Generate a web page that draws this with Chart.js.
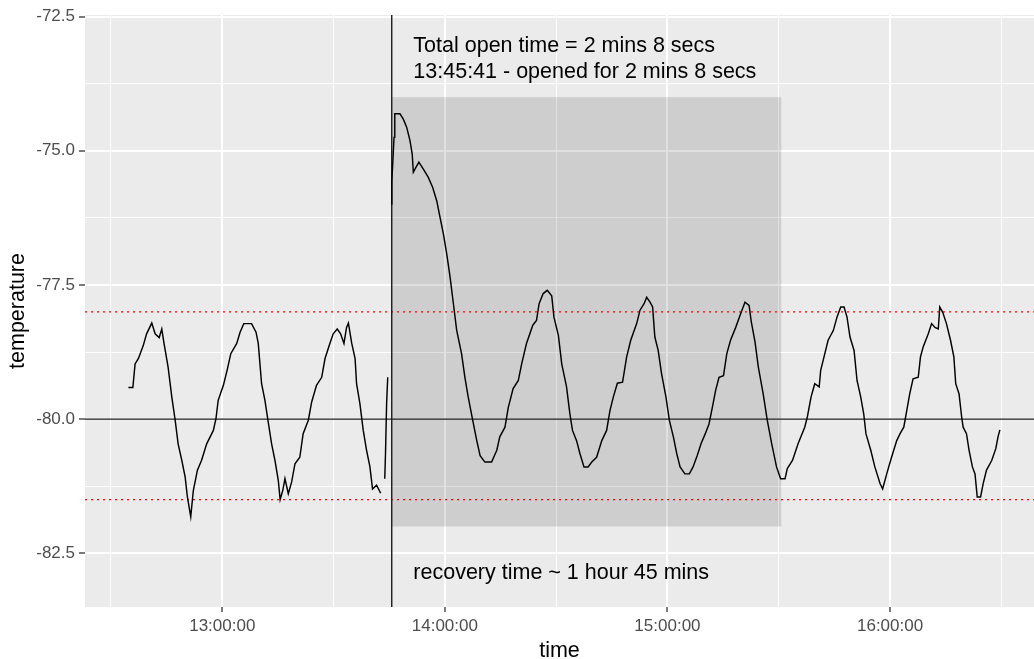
<!DOCTYPE html>
<html>
<head>
<meta charset="utf-8">
<title>temperature vs time</title>
<script src="https://cdn.jsdelivr.net/npm/chart.js@4.4.1/dist/chart.umd.min.js"></script>
<style>
  html, body { margin: 0; padding: 0; background: #fff; }
  #wrap { width: 1034px; height: 659px; }
</style>
</head>
<body>
<div id="wrap"><canvas id="chart"></canvas></div>
<script>
// -----------------------------
// Data (time = minutes since midnight, null = gap in logging)
// -----------------------------
const timeMins = [
  754.7, 755.9, 756.5, 757.4, 758.7, 759.6, 761.0, 761.9, 763.0, 763.7,
  764.3, 765.4, 766.4, 767.3, 768.1, 769.1, 770.0, 770.6, 771.5, 772.2,
  773.3, 774.4, 775.8, 777.6, 778.3, 778.9, 780.3, 781.3, 782.3, 783.9,
  784.8, 785.8, 787.9, 789.1, 789.7, 790.6, 791.5, 792.4, 793.3, 794.2,
  795.1, 795.6, 796.3, 796.9, 797.8, 798.7, 799.6, 800.9, 801.8, 803.2,
  804.1, 805.4, 806.8, 807.7, 809.0, 809.9, 811.0, 811.9, 812.8, 813.5,
  814.0, 814.9, 815.8, 816.2, 817.1, 818.0, 818.9, 819.8, 820.5, 821.6,
  822.7, 823.2, 823.8, 824.0, 824.3, 824.6, 825.1, 825.6, 825.7, 826.3,
  826.5, 827.9, 828.8, 829.7, 830.6, 831.2, 831.5, 832.2, 833.0, 834.2,
  835.5, 836.7, 837.8, 838.7, 839.6, 840.5, 841.4, 842.3, 843.2, 844.5,
  845.4, 846.3, 847.5, 848.6, 849.5, 850.8, 852.6, 854.0, 854.8, 856.2,
  857.1, 858.4, 859.8, 860.7, 862.0, 863.7, 864.7, 865.4, 866.5, 867.6,
  868.8, 869.4, 870.6, 871.5, 872.8, 873.7, 874.4, 875.5, 876.4, 877.5,
  878.6, 879.6, 880.9, 882.3, 883.6, 884.5, 885.4, 886.5, 887.9, 889.0,
  890.1, 891.7, 892.6, 893.7, 894.4, 895.3, 896.0, 896.6, 897.5, 898.4,
  899.6, 900.5, 901.6, 902.5, 903.4, 904.7, 905.9, 906.9, 908.0, 909.1,
  910.2, 911.2, 912.1, 913.0, 913.9, 915.1, 916.0, 917.0, 918.4, 919.7,
  920.9, 922.0, 922.6, 923.6, 924.5, 925.8, 926.9, 928.1, 929.4, 930.5,
  931.7, 932.3, 933.7, 935.2, 937.0, 937.7, 938.7, 939.7, 940.9, 941.3,
  942.2, 943.3, 944.7, 945.7, 946.7, 947.6, 948.4, 949.2, 950.3, 951.1,
  952.1, 952.9, 953.5, 954.8, 955.9, 957.3, 958.0, 959.1, 960.4, 961.8,
  962.7, 963.7, 964.5, 965.3, 966.2, 967.6, 968.2, 968.9, 970.3, 971.2,
  972.1, 973.0, 973.4, 974.2, 975.2, 976.3, 977.2, 977.7, 978.6, 979.3,
  979.7, 980.6, 981.3, 982.2, 982.9, 983.5, 984.4, 985.1, 986.0, 987.4,
  988.5, 989.1, 989.6
];

const temps = [
  -79.41, -79.41, -78.97, -78.87, -78.63, -78.41, -78.21, -78.41, -78.48, -78.32,
  -78.59, -79.03, -79.59, -80.02, -80.46, -80.77, -81.08, -81.45, -81.82, -81.33,
  -80.95, -80.77, -80.46, -80.21, -79.99, -79.65, -79.37, -79.09, -78.78, -78.59,
  -78.38, -78.22, -78.22, -78.38, -78.59, -79.34, -79.65, -80.06, -80.46, -80.77,
  -81.14, -81.50, -81.33, -81.11, -81.39, -81.17, -80.83, -80.71, -80.27, -80.02,
  -79.68, -79.37, -79.22, -78.87, -78.59, -78.41, -78.32, -78.41, -78.59, -78.29,
  -78.21, -78.59, -78.87, -79.34, -79.71, -80.21, -80.58, -80.89, -81.30, -81.23,
  -81.38, null, -81.11, -80.64, -79.71, -79.22, null, -75.99, -75.58, -74.75,
  -74.31, -74.31, -74.41, -74.56, -74.81, -75.06, -75.40, -75.31, -75.21, -75.34,
  -75.49, -75.68, -75.93, -76.24, -76.55, -76.92, -77.35, -77.85, -78.35, -78.78,
  -79.22, -79.59, -80.02, -80.40, -80.68, -80.80, -80.80, -80.58, -80.33, -80.15,
  -79.78, -79.43, -79.28, -78.97, -78.59, -78.25, -78.16, -77.85, -77.66, -77.60,
  -77.70, -78.10, -78.44, -78.97, -79.40, -79.90, -80.21, -80.40, -80.64, -80.89,
  -80.89, -80.80, -80.71, -80.40, -80.21, -79.84, -79.59, -79.33, -79.31, -78.84,
  -78.53, -78.22, -77.97, -77.85, -77.73, -77.82, -77.91, -78.47, -78.72, -79.15,
  -79.59, -80.02, -80.33, -80.64, -80.89, -81.02, -81.02, -80.89, -80.68, -80.45,
  -80.27, -80.09, -79.78, -79.46, -79.22, -79.19, -78.78, -78.53, -78.29, -78.04,
  -77.82, -77.88, -78.19, -78.56, -79.03, -79.53, -80.02, -80.46, -80.89, -81.11,
  -81.11, -80.92, -80.77, -80.46, -80.15, -79.96, -79.59, -79.34, -79.40, -79.09,
  -78.84, -78.53, -78.35, -78.10, -77.91, -77.91, -78.10, -78.47, -78.72, -79.28,
  -79.59, -79.90, -80.27, -80.58, -80.89, -81.20, -81.30, -81.02, -80.71, -80.40,
  -80.27, -80.15, -79.84, -79.53, -79.25, -79.22, -78.84, -78.66, -78.41, -78.22,
  -78.29, -78.32, -77.91, -78.01, -78.22, -78.53, -78.84, -79.34, -79.53, -79.96,
  -80.15, -80.27, -80.58, -80.89, -81.02, -81.45, -81.45, -81.20, -80.95, -80.77,
  -80.55, -80.33, -80.20
];

// axis ticks (major get labels, minor only gridlines)
const xMajorTicks = [780, 840, 900, 960];
const xMinorTicks = [750, 810, 870, 930, 990];
const yMajorTicks = [-82.5, -80, -77.5, -75, -72.5];
const yMinorTicks = [-81.25, -78.75, -76.25, -73.75];

const xRange = [743.0, 998.8];
const yRange = [-83.5, -72.47];

// reference marks
const openedAt = 825.68;     // 13:45:41
const recoveredAt = 930.68;  // +1 hour 45 mins
const shadeTemps = [-82, -74];
const targetTemp = -80;
const limitTemps = [-78, -81.5];

const noteTexts = [
  "Total open time = 2 mins 8 secs",
  "13:45:41 - opened for 2 mins 8 secs",
  "recovery time ~ 1 hour 45 mins"
];
const noteTimes = [831.5, 831.5, 831.5];
const noteTemps = [-73.04, -73.53, -82.87];


// -----------------------------
// Helpers
// -----------------------------
function pad(n) {
  return String(n).padStart(2, "0");
}

function fmtTime(m) {
  const h = Math.floor(m / 60);
  const mm = Math.round(m - h * 60);
  return `${h}:${pad(mm)}:00`;
}

function isMajor(list, v) {
  return list.some(t => Math.abs(t - v) < 1e-6);
}

const FONT = '"Liberation Sans", Arial, sans-serif';


// -----------------------------
// Plugins: panel background, shaded window, text notes
// -----------------------------
const panelPlugin = {
  id: "panel",
  beforeDraw(chart) {
    const { ctx, chartArea: a } = chart;
    ctx.save();
    ctx.fillStyle = "#EBEBEB";
    ctx.fillRect(a.left, a.top, a.right - a.left, a.bottom - a.top);
    ctx.restore();
  },
  beforeDatasetsDraw(chart) {
    const { ctx, scales: { x, y } } = chart;
    const x0 = x.getPixelForValue(openedAt);
    const x1 = x.getPixelForValue(recoveredAt);
    const y0 = y.getPixelForValue(shadeTemps[1]);
    const y1 = y.getPixelForValue(shadeTemps[0]);
    ctx.save();
    ctx.fillStyle = "rgba(0,0,0,0.12)";
    ctx.fillRect(x0, y0, x1 - x0, y1 - y0);
    ctx.restore();
  },
  afterDatasetsDraw(chart) {
    const { ctx, scales: { x, y } } = chart;
    ctx.save();
    ctx.fillStyle = "#000";
    ctx.font = "21.5px " + FONT;
    ctx.textAlign = "left";
    ctx.textBaseline = "middle";
    noteTexts.forEach((t, i) => {
      ctx.fillText(t, x.getPixelForValue(noteTimes[i]), y.getPixelForValue(noteTemps[i]));
    });
    ctx.restore();
  }
};


// -----------------------------
// Chart
// -----------------------------
const tempPoints = timeMins.map((t, i) => ({ x: t, y: temps[i] }));

const refLine = (pts, color, width, dash, order) => ({
  data: pts,
  borderColor: color,
  borderWidth: width,
  borderDash: dash,
  pointRadius: 0,
  order: order
});

new Chart(document.getElementById("chart"), {
  type: "line",
  data: {
    datasets: [
      {
        label: "temperature",
        data: tempPoints,
        borderColor: "#000",
        borderWidth: 1.45,
        pointRadius: 0,
        spanGaps: false,
        tension: 0,
        order: 0
      },
      refLine([{ x: xRange[0], y: targetTemp }, { x: xRange[1], y: targetTemp }], "#1a1a1a", 1.4, [], 1),
      refLine([{ x: xRange[0], y: limitTemps[0] }, { x: xRange[1], y: limitTemps[0] }], "#ff0000", 1.3, [2, 4], 2),
      refLine([{ x: xRange[0], y: limitTemps[1] }, { x: xRange[1], y: limitTemps[1] }], "#ff0000", 1.3, [2, 4], 2),
      refLine([{ x: openedAt, y: yRange[0] }, { x: openedAt, y: yRange[1] }], "#1a1a1a", 1.4, [], 1)
    ]
  },
  options: {
    responsive: true,
    maintainAspectRatio: false,
    animation: false,
    layout: { padding: { top: 15, right: 0, bottom: 0, left: 0 } },
    plugins: {
      legend: { display: false },
      tooltip: { enabled: false }
    },
    scales: {
      x: {
        type: "linear",
        min: xRange[0],
        max: xRange[1],
        afterBuildTicks: s => {
          s.ticks = xMajorTicks.concat(xMinorTicks).sort((a, b) => a - b).map(v => ({ value: v }));
        },
        afterFit: s => { s.height = 52; },
        border: { display: false },
        grid: {
          color: "#ffffff",
          lineWidth: c => (c.tick && isMajor(xMajorTicks, c.tick.value)) ? 2 : 1,
          tickColor: c => (c.tick && isMajor(xMajorTicks, c.tick.value)) ? "#333333" : "rgba(0,0,0,0)",
          tickLength: 5,
          tickWidth: 1.3
        },
        ticks: {
          autoSkip: false,
          maxRotation: 0,
          padding: 4,
          color: "#4D4D4D",
          font: { family: FONT, size: 17 },
          callback: v => isMajor(xMajorTicks, v) ? fmtTime(v) : ""
        },
        title: {
          display: true,
          text: "time",
          color: "#000",
          font: { family: FONT, size: 21.5, lineHeight: 0.8 },
          padding: { top: 0, bottom: -1 }
        }
      },
      y: {
        type: "linear",
        min: yRange[0],
        max: yRange[1],
        afterBuildTicks: s => {
          s.ticks = yMajorTicks.concat(yMinorTicks).sort((a, b) => a - b).map(v => ({ value: v }));
        },
        afterFit: s => { s.width = 85; },
        border: { display: false },
        grid: {
          color: "#ffffff",
          lineWidth: c => (c.tick && isMajor(yMajorTicks, c.tick.value)) ? 2 : 1,
          tickColor: c => (c.tick && isMajor(yMajorTicks, c.tick.value)) ? "#333333" : "rgba(0,0,0,0)",
          tickLength: 6,
          tickWidth: 1.3
        },
        ticks: {
          autoSkip: false,
          padding: 4,
          color: "#4D4D4D",
          font: { family: FONT, size: 17 },
          callback: v => isMajor(yMajorTicks, v) ? v.toFixed(1) : ""
        },
        title: {
          display: true,
          text: "temperature",
          color: "#000",
          font: { family: FONT, size: 21.5, lineHeight: 1 },
          padding: { top: 7, bottom: 0 }
        }
      }
    }
  },
  plugins: [panelPlugin]
});
</script>
</body>
</html>
